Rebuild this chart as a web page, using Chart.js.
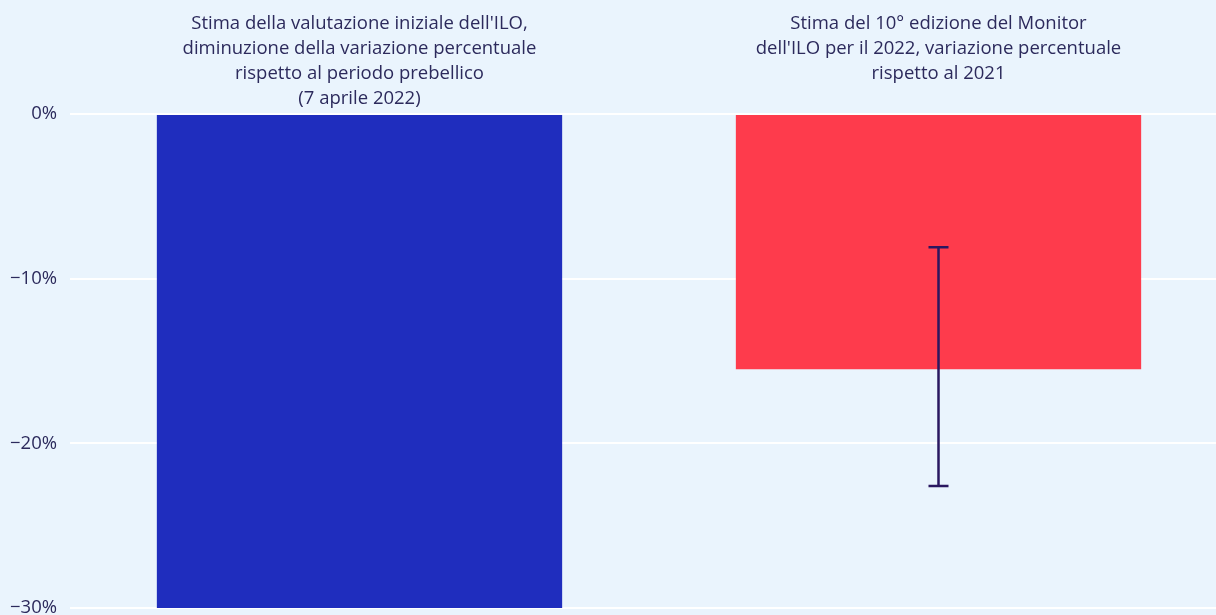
<!DOCTYPE html>
<html>
<head>
<meta charset="utf-8">
<script src="https://cdn.jsdelivr.net/npm/chart.js@4"></script>
<style>
  html, body { margin: 0; padding: 0; background: #eaf4fd; overflow: hidden; }
  #wrap { width: 1228px; height: 632px; position: relative; }
</style>
</head>
<body>
<div id="wrap"><canvas id="c"></canvas></div>
<script>
// Category labels (multi-line), shown above the bars
const categories = [
  ["Stima della valutazione iniziale dell'ILO,", "diminuzione della variazione percentuale", "rispetto al periodo prebellico", "(7 aprile 2022)"],
  ["Stima del 10° edizione del Monitor", "dell'ILO per il 2022, variazione percentuale", "rispetto al 2021"]
];
// Percentage change values
const values = [-30, -15.5];
// Uncertainty range (only for the second estimate)
const errorLow = [null, -22.6];
const errorHigh = [null, -8.1];
// Y axis ticks
const yTicks = [0, -10, -20, -30];
const barColors = ['#1f2dbe', '#fe3b4c'];

const textColor = '#2c2a5c';
const fontFamily = "'Open Sans', 'Noto Sans', sans-serif";

// Draws the vertical error bar with caps over each bar that has a range
const errorBarPlugin = {
  id: 'errorBars',
  afterDatasetsDraw(chart) {
    const meta = chart.getDatasetMeta(0);
    const y = chart.scales.y;
    const ctx = chart.ctx;
    ctx.save();
    ctx.strokeStyle = '#2a1760';
    ctx.lineWidth = 2.5;
    meta.data.forEach((bar, i) => {
      if (errorLow[i] == null) return;
      const x = bar.x;
      const y1 = y.getPixelForValue(errorHigh[i]);
      const y2 = y.getPixelForValue(errorLow[i]);
      const cap = 10;
      ctx.beginPath();
      ctx.moveTo(x, y1); ctx.lineTo(x, y2);
      ctx.moveTo(x - cap, y1); ctx.lineTo(x + cap, y1);
      ctx.moveTo(x - cap, y2); ctx.lineTo(x + cap, y2);
      ctx.stroke();
    });
    ctx.restore();
  }
};

new Chart(document.getElementById('c'), {
  type: 'bar',
  data: {
    labels: categories,
    datasets: [{
      data: values,
      backgroundColor: barColors,
      borderWidth: 0,
      categoryPercentage: 1,
      barPercentage: 0.7
    }]
  },
  options: {
    responsive: true,
    maintainAspectRatio: false,
    animation: false,
    layout: { padding: 0 },
    plugins: { legend: { display: false }, tooltip: { enabled: false } },
    scales: {
      x: {
        position: 'top',
        grid: { display: false },
        border: { display: false },
        ticks: {
          color: textColor,
          font: { family: fontFamily, size: 18.5, lineHeight: 25 / 18.5 },
          crossAlign: 'far',
          padding: -5,
          maxRotation: 0,
          autoSkip: false
        },
        afterFit(scale) { scale.height = 114; }
      },
      y: {
        min: -30,
        max: 0,
        afterBuildTicks(scale) { scale.ticks = yTicks.map(v => ({ value: v })); },
        grid: { color: '#ffffff', lineWidth: 2, drawTicks: false },
        border: { display: false },
        ticks: {
          color: textColor,
          font: { family: fontFamily, size: 18.5 },
          padding: 13,
          callback: v => (v < 0 ? '\u2212' : '') + Math.abs(v) + '%'
        },
        afterFit(scale) { scale.width = 70; }
      }
    }
  },
  plugins: [errorBarPlugin]
});
</script>
</body>
</html>
